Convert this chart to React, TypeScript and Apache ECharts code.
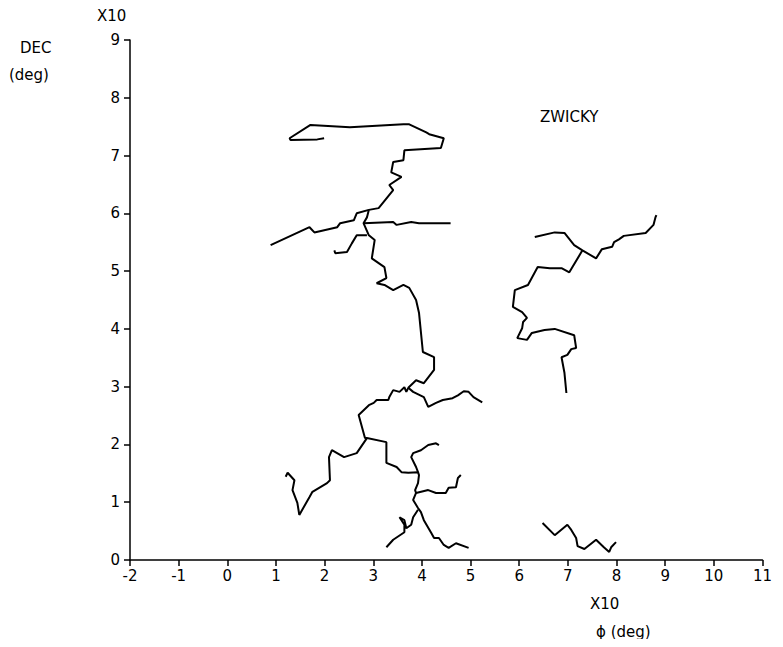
import React, { useEffect, useRef } from "react";
import * as echarts from "echarts";

const xTicks = [-2, 11];
const yTicks = [0, 9];

const trunk: number[][] = [
  [1.99, 7.3], [1.85, 7.28], [1.3, 7.27], [1.28, 7.3], [1.71, 7.53], [2.52, 7.49], [3.62, 7.54], [3.74, 7.54],
  [4.09, 7.4], [4.15, 7.37], [4.45, 7.3], [4.39, 7.13], [3.64, 7.09], [3.62, 6.92], [3.41, 6.89], [3.37, 6.71],
  [3.58, 6.63], [3.33, 6.49], [3.41, 6.4], [3.11, 6.09], [2.91, 6.06], [2.87, 5.93], [2.8, 5.83], [2.91, 5.62],
  [3.03, 5.54], [2.97, 5.22], [3.23, 5.07], [3.27, 4.88], [3.07, 4.79], [3.23, 4.76], [3.41, 4.67], [3.62, 4.76],
  [3.74, 4.71], [3.88, 4.5], [3.94, 4.28], [4.02, 3.6], [4.25, 3.51], [4.25, 3.29], [4.04, 3.06], [3.88, 3.11],
  [3.72, 2.98], [3.82, 2.91], [4.04, 2.82], [4.13, 2.65], [4.29, 2.72], [4.43, 2.77], [4.63, 2.8], [4.74, 2.85],
  [4.86, 2.92], [4.96, 2.91], [5.06, 2.82], [5.24, 2.73],
];
const leftArm: number[][] = [
  [2.91, 6.06], [2.66, 6.0], [2.6, 5.88], [2.32, 5.83], [2.26, 5.76], [1.79, 5.67], [1.69, 5.76], [0.89, 5.45],
];
const rightArm: number[][] = [
  [2.8, 5.83], [3.41, 5.85], [3.48, 5.8], [3.78, 5.85], [3.94, 5.83], [4.59, 5.83],
];
const hook: number[][] = [
  [2.87, 5.62], [2.66, 5.62], [2.56, 5.48], [2.46, 5.33], [2.22, 5.31], [2.2, 5.36],
];
const lowerLeft: number[][] = [
  [3.72, 2.98], [3.68, 2.91], [3.64, 2.99], [3.54, 2.91], [3.41, 2.94], [3.33, 2.82], [3.31, 2.77], [3.07, 2.77],
  [3.01, 2.72], [2.91, 2.68], [2.7, 2.51], [2.83, 2.11], [2.87, 2.11], [2.66, 1.85], [2.4, 1.78], [2.15, 1.9],
  [2.09, 1.78], [2.11, 1.38], [2.05, 1.33], [1.75, 1.18], [1.69, 1.09], [1.48, 0.78], [1.44, 0.99], [1.34, 1.21],
  [1.38, 1.38], [1.24, 1.51], [1.2, 1.44],
];
const midBranch: number[][] = [
  [2.87, 2.11], [3.27, 2.04], [3.27, 1.68], [3.48, 1.61], [3.58, 1.52], [3.72, 1.51], [3.92, 1.52],
  [3.94, 1.47], [3.92, 1.33], [3.86, 1.21], [3.88, 1.16], [3.82, 1.04], [3.92, 0.9], [3.98, 0.83], [4.04, 0.69],
  [4.19, 0.47], [4.25, 0.38], [4.35, 0.38], [4.45, 0.26], [4.55, 0.21], [4.7, 0.29], [4.96, 0.21],
];
const upBranch: number[][] = [
  [3.92, 1.52], [3.88, 1.61], [3.78, 1.78], [3.82, 1.85], [3.98, 1.9], [4.13, 1.99], [4.29, 2.02], [4.35, 1.99],
];
const rightSub: number[][] = [
  [3.88, 1.16], [4.13, 1.21], [4.29, 1.16], [4.49, 1.16], [4.55, 1.25], [4.7, 1.26], [4.74, 1.42], [4.8, 1.47],
];
const bottomLeft: number[][] = [
  [3.92, 0.87], [3.82, 0.74], [3.78, 0.61], [3.68, 0.55], [3.64, 0.69], [3.54, 0.74], [3.64, 0.61], [3.64, 0.48],
  [3.41, 0.35], [3.27, 0.22],
];
const eastTop: number[][] = [
  [6.32, 5.59], [6.73, 5.67], [6.93, 5.66], [7.13, 5.45], [7.3, 5.36], [7.58, 5.22], [7.7, 5.38], [7.91, 5.42],
  [7.95, 5.5], [8.05, 5.55], [8.15, 5.61], [8.6, 5.66], [8.76, 5.8], [8.8, 5.93], [8.82, 5.97],
];
const eastDown: number[][] = [
  [7.3, 5.36], [7.03, 4.98], [6.87, 5.05], [6.63, 5.05], [6.38, 5.07], [6.18, 4.76], [5.91, 4.67], [5.87, 4.38],
  [6.06, 4.29], [6.16, 4.19], [6.08, 4.12], [6.06, 4.01], [5.96, 3.84], [6.16, 3.81], [6.26, 3.93], [6.52, 3.98],
  [6.73, 4.0], [7.13, 3.89], [7.17, 3.67], [7.07, 3.65], [6.99, 3.55], [6.87, 3.51], [6.93, 3.24], [6.97, 2.89],
];
const eastBottom: number[][] = [
  [6.48, 0.64], [6.73, 0.43], [6.99, 0.61], [7.07, 0.52], [7.17, 0.38], [7.2, 0.24], [7.34, 0.19], [7.58, 0.35],
  [7.74, 0.22], [7.85, 0.14], [7.89, 0.22], [7.99, 0.31],
];

const tracks = [trunk, leftArm, rightArm, hook, lowerLeft, midBranch, upBranch, rightSub, bottomLeft, eastTop, eastDown, eastBottom];

const FONT = "DejaVu Sans";

export default function App() {
  const ref = useRef<HTMLDivElement>(null);
  useEffect(() => {
    const chart = echarts.init(ref.current!, null, { renderer: "svg" });
    const axisCommon = {
      type: "value" as const,
      interval: 1,
      splitLine: { show: false },
      axisLine: { show: true, onZero: false, lineStyle: { color: "#000", width: 1.5 } },
      axisTick: { show: true, inside: false, length: 6, lineStyle: { color: "#000", width: 1.5 } },
      axisLabel: { color: "#000", fontFamily: FONT, fontSize: 15 },
    };
    chart.setOption({
      animation: false,
      backgroundColor: "#fff",
      grid: { left: 122, right: 5, top: 32, bottom: 79 },
      xAxis: { ...axisCommon, min: xTicks[0], max: xTicks[1], axisLabel: { ...axisCommon.axisLabel, margin: 8 } },
      yAxis: { ...axisCommon, min: yTicks[0], max: yTicks[1], axisLabel: { ...axisCommon.axisLabel, margin: 10 } },
      graphic: [
        { type: "text", left: 89, top: 0, style: { text: "X10", font: `15px ${FONT}`, fill: "#000" } },
        { type: "text", left: 12, top: 32, style: { text: "DEC", font: `15px ${FONT}`, fill: "#000" } },
        { type: "text", left: 1, top: 59, style: { text: "(deg)", font: `15px ${FONT}`, fill: "#000" } },
        { type: "text", left: 582, top: 588, style: { text: "X10", font: `15px ${FONT}`, fill: "#000" } },
        { type: "text", left: 588, top: 616, style: { text: "ϕ (deg)", font: `15px ${FONT}`, fill: "#000" } },
        { type: "text", left: 532, top: 101, style: { text: "ZWICKY", font: `15px ${FONT}`, fill: "#000" } },
      ],
      series: tracks.map((d) => ({
        type: "line",
        data: d,
        showSymbol: false,
        symbol: "none",
        lineStyle: { color: "#000", width: 2 },
      })),
    });
    return () => chart.dispose();
  }, []);
  return <div ref={ref} style={{ width: 767, height: 631 }} />;
}
